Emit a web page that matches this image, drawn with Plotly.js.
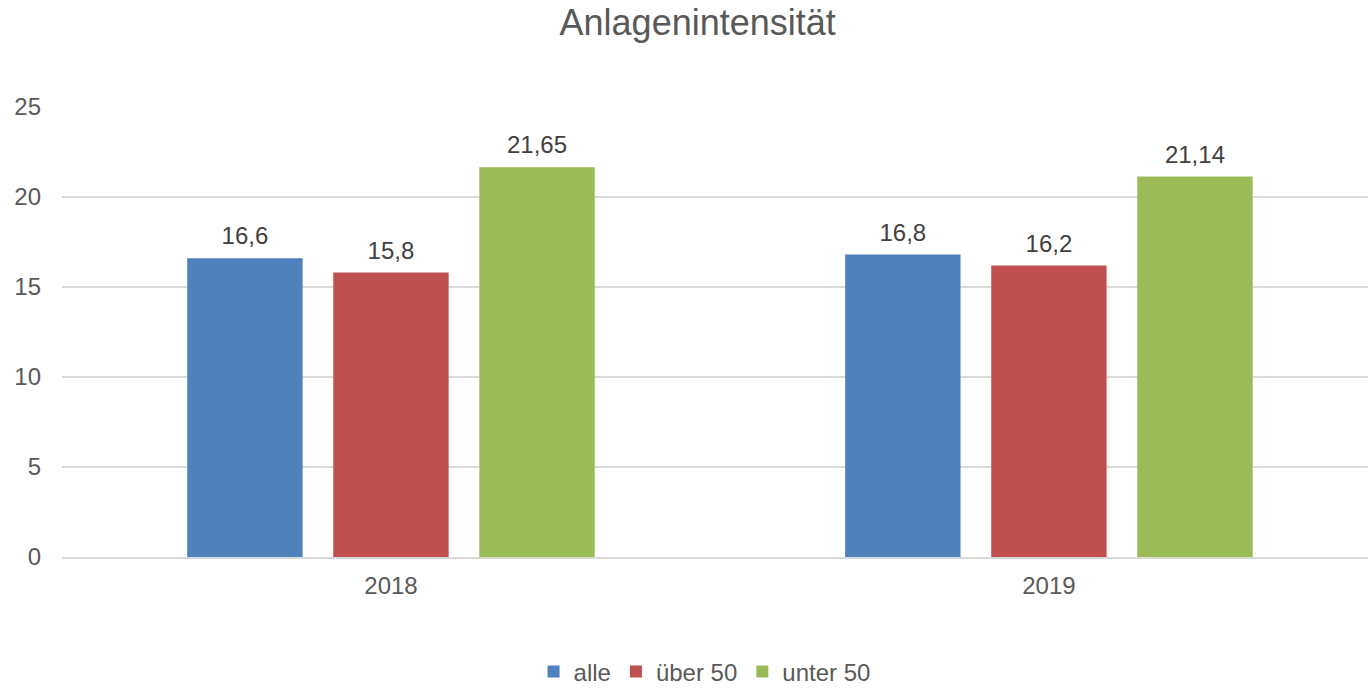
<!DOCTYPE html>
<html>
<head>
<meta charset="utf-8">
<script src="https://cdn.plot.ly/plotly-3.0.1.min.js"></script>
<style>html,body{margin:0;padding:0;background:#fff;}#chart{width:1368px;height:689px;}</style>
</head>
<body>
<div id="chart"></div>
<script>
const categories = ["2018", "2019"];
const seriesNames = ["alle", "über 50", "unter 50"];
const alle = [16.6, 16.8];
const ueber50 = [15.8, 16.2];
const unter50 = [21.65, 21.14];
const colors = ["#4f81bd", "#c0504d", "#9bbb59"];
const yTicks = [0, 5, 10, 15, 20, 25];

const FONT = "'Liberation Sans', Arial, sans-serif";
const seriesValues = [alle, ueber50, unter50];

const barTraces = seriesValues.map((vals, i) => ({
  type: "bar",
  name: seriesNames[i],
  x: categories,
  y: vals,
  offsetgroup: String(i),
  marker: { color: colors[i] },
  hoverinfo: "x+y+name"
}));

const labelTraces = seriesValues.map((vals, i) => ({
  type: "scatter",
  mode: "markers+text",
  name: seriesNames[i] + " label",
  x: categories,
  y: vals,
  offsetgroup: String(i),
  marker: { size: 11, color: "rgba(0,0,0,0)" },
  texttemplate: "%{y}",
  textposition: "top center",
  textfont: { family: FONT, size: 24, color: "#404040" },
  cliponaxis: false,
  showlegend: false,
  hoverinfo: "skip"
}));

const layout = {
  width: 1368,
  height: 689,
  margin: { l: 62, r: 0, t: 107, b: 132 },
  paper_bgcolor: "#ffffff",
  plot_bgcolor: "#ffffff",
  separators: ",.",
  font: { family: FONT, size: 24, color: "#595959" },
  title: {
    text: "Anlagenintensität",
    font: { family: FONT, size: 36, color: "#595959" },
    x: 0.51, xanchor: "center",
    y: 0.968, yanchor: "middle",
    yref: "container"
  },
  barmode: "group",
  bargap: 0.334,
  bargroupgap: 0.21,
  scattermode: "group",
  scattergap: 0.334,
  xaxis: {
    type: "category",
    range: [-0.5, 1.485],
    showgrid: false,
    showline: true,
    linecolor: "#d9d9d9",
    linewidth: 1.5,
    ticks: "",
    ticklabelstandoff: 7,
    tickfont: { family: FONT, size: 24, color: "#595959" },
    zeroline: false
  },
  yaxis: {
    range: [0, 25],
    tickvals: yTicks,
    ticktext: yTicks.map(String),
    showgrid: true,
    gridcolor: "#d9d9d9",
    gridwidth: 1.5,
    zeroline: false,
    showline: false,
    ticks: "",
    ticklabelstandoff: 20,
    tickfont: { family: FONT, size: 24, color: "#595959" }
  },
  showlegend: true,
  legend: {
    orientation: "h",
    x: 0.492, xanchor: "center",
    y: 0.025, yanchor: "middle",
    yref: "container",
    font: { family: FONT, size: 24, color: "#595959" },
    itemwidth: 30,
    tracegroupgap: 0
  }
};

Plotly.newPlot("chart", barTraces.concat(labelTraces), layout, { displayModeBar: false, staticPlot: true });
</script>
</body>
</html>
